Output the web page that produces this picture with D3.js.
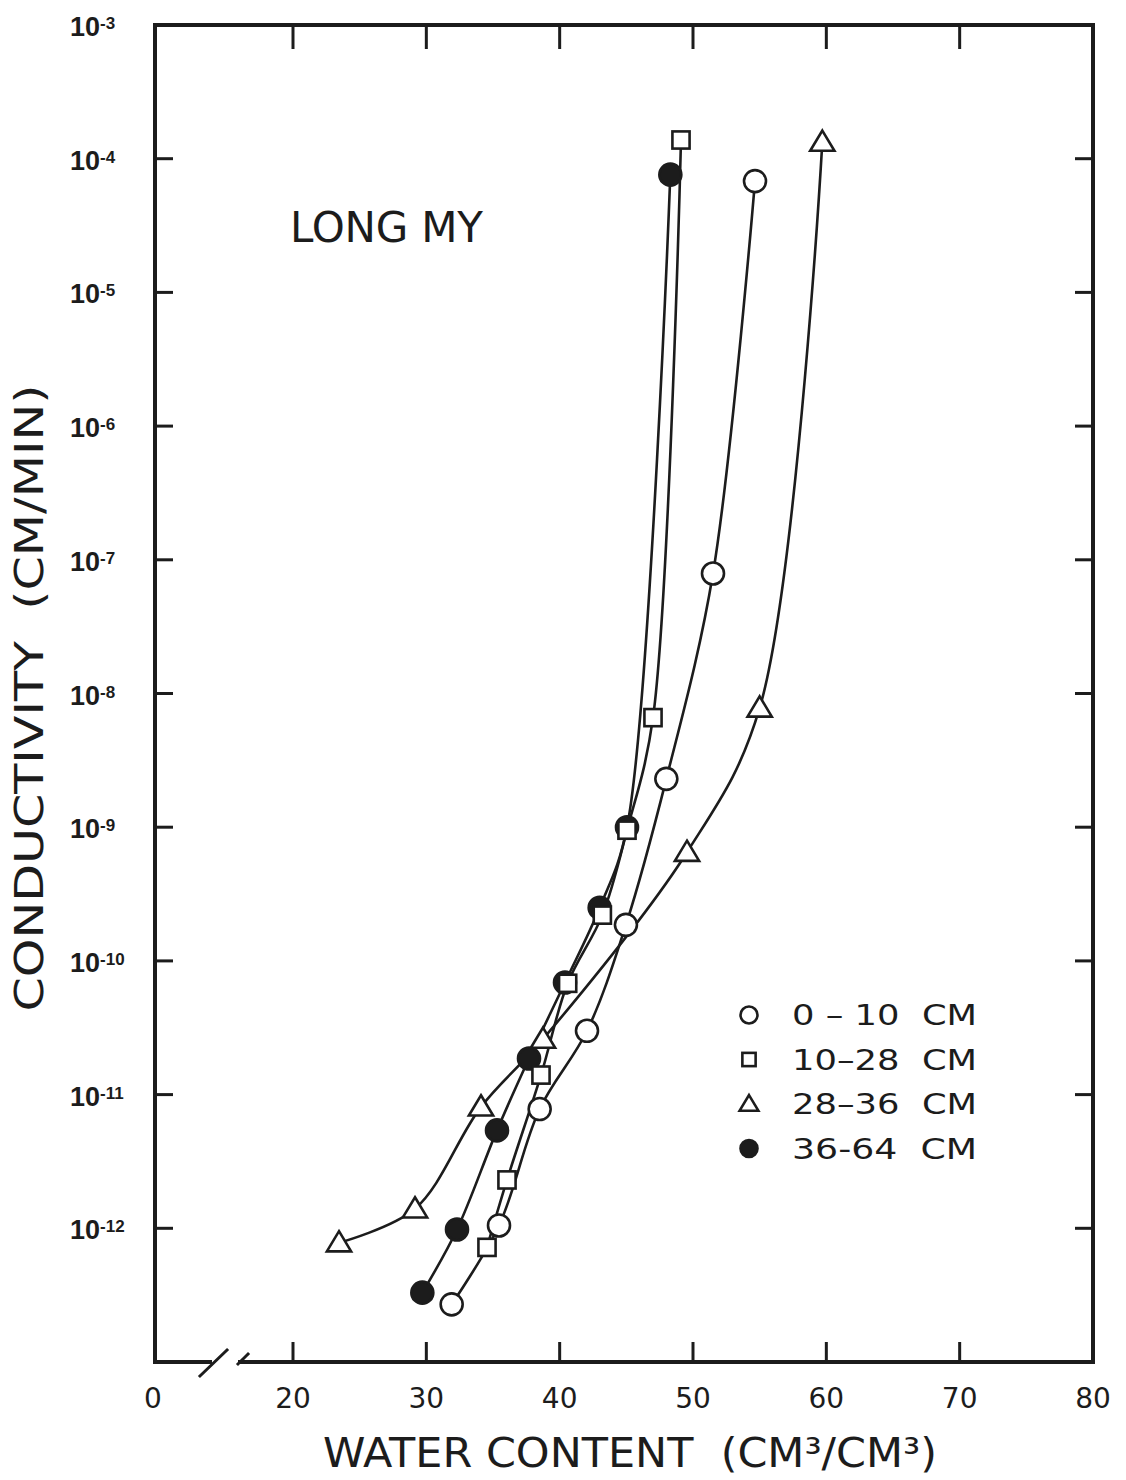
<!DOCTYPE html>
<html>
<head>
<meta charset="utf-8">
<script src="https://cdn.jsdelivr.net/npm/d3@7"></script>
<style>
  body { margin: 0; background: #fff; }
  text { fill: #1c1c1c; }
</style>
</head>
<body>
<svg id="chart"></svg>
<script>
// water content (cm3/cm3) and conductivity (cm/min)
const wc0_10  = [31.9, 35.45, 38.5, 42.05, 44.97, 48.0, 51.5, 54.65]
const k0_10   = [2.7e-13, 1.05e-12, 7.8e-12, 3.0e-11, 1.86e-10, 2.3e-9, 7.9e-8, 6.8e-5]
const wc10_28 = [34.55, 36.05, 38.6, 40.6, 43.2, 45.05, 47.0, 49.1]
const k10_28  = [7.2e-13, 2.3e-12, 1.4e-11, 6.8e-11, 2.2e-10, 9.5e-10, 6.6e-9, 1.38e-4]
const wc28_36 = [23.45, 29.15, 34.1, 38.75, 49.55, 55.0, 59.7]
const k28_36  = [7.8e-13, 1.4e-12, 8.1e-12, 2.6e-11, 6.5e-10, 7.8e-9, 1.33e-4]
const wc36_64 = [29.7, 32.3, 35.3, 37.7, 40.4, 43.0, 45.05, 48.3]
const k36_64  = [3.3e-13, 9.8e-13, 5.4e-12, 1.86e-11, 6.9e-11, 2.5e-10, 1.0e-9, 7.6e-5]

const seriesLabels = ['0 – 10 CM', '10–28 CM', '28–36 CM', '36-64 CM']
const seriesSymbols = ['circle', 'square', 'triangle', 'dot']

const xTicks = [20, 30, 40, 50, 60, 70, 80]
const xBreakLabel = '0'
const yExps = [-3, -4, -5, -6, -7, -8, -9, -10, -11, -12]

const W = 1126, H = 1480
const L = 155, R = 1093, T = 25, B = 1362
const INK = '#1c1c1c'

const series = [
  { wc: wc0_10,  k: k0_10 },
  { wc: wc10_28, k: k10_28 },
  { wc: wc28_36, k: k28_36 },
  { wc: wc36_64, k: k36_64 },
].map((s, i) => ({
  label: seriesLabels[i],
  symbol: seriesSymbols[i],
  points: s.wc.map((w, j) => ({ wc: w, k: s.k[j] })),
}))

const svg = d3.select('#chart')
  .attr('width', W)
  .attr('height', H)
  .style('font-family', '"DejaVu Sans", sans-serif')

svg.append('rect').attr('width', W).attr('height', H).attr('fill', '#fff')

// x axis is broken below 20: left edge stands for 0
const x = d3.scaleLinear().domain([9.65, 80]).range([L, R])
const y = d3.scaleLog().domain([1e-13, 1e-3]).range([B, T])

// frame: left, top, right, bottom (bottom with a break)
const frame = svg.append('g')
  .attr('stroke', INK)
  .attr('stroke-width', 4)
  .attr('fill', 'none')
  .attr('stroke-linecap', 'square')

frame.append('path').attr('d', `M${L},${B} V${T} H${R} V${B} H${L + 85}`)
frame.append('path').attr('d', `M${L},${B} H${L + 55}`)
frame.append('path').attr('d', `M${L + 45},${B + 14} L${L + 72},${B - 12}`).attr('stroke-width', 3)
frame.append('path').attr('d', `M${L + 83},${B + 2} L${L + 93},${B - 8}`).attr('stroke-width', 3)

// ticks
const ticks = svg.append('g').attr('stroke', INK).attr('stroke-width', 3)
const inner = xTicks.filter(v => x(v) < R - 5)
ticks.selectAll('.tb').data(inner).join('line')
  .attr('x1', d => x(d)).attr('x2', d => x(d))
  .attr('y1', B).attr('y2', B - 20)
ticks.selectAll('.tt').data(inner).join('line')
  .attr('x1', d => x(d)).attr('x2', d => x(d))
  .attr('y1', T).attr('y2', T + 24)

const innerY = yExps.filter(e => y(Math.pow(10, e)) > T + 5)
ticks.selectAll('.tl').data(innerY).join('line')
  .attr('x1', L).attr('x2', L + 18)
  .attr('y1', d => y(Math.pow(10, d))).attr('y2', d => y(Math.pow(10, d)))
ticks.selectAll('.tr').data(innerY).join('line')
  .attr('x1', R).attr('x2', R - 18)
  .attr('y1', d => y(Math.pow(10, d))).attr('y2', d => y(Math.pow(10, d)))

// x tick labels
svg.append('g').selectAll('text')
  .data(xTicks)
  .join('text')
    .attr('x', d => x(d))
    .attr('y', B + 46)
    .attr('text-anchor', 'middle')
    .attr('font-size', 28)
    .text(d => d)
svg.append('text')
  .attr('x', L - 2).attr('y', B + 46)
  .attr('text-anchor', 'middle')
  .attr('font-size', 28)
  .text(xBreakLabel)

// y tick labels 10^n
const yl = svg.append('g')
  .style('font-family', '"Liberation Sans", Arial, sans-serif')
  .attr('font-weight', 'bold')
  .selectAll('text')
  .data(yExps)
  .join('text')
    .attr('x', 70)
    .attr('y', d => y(Math.pow(10, d)) + 11)
yl.append('tspan').attr('font-size', 27).text('10')
yl.append('tspan').attr('font-size', 17).attr('dy', -7).text(d => d)

// axis titles
svg.append('text')
  .attr('transform', 'translate(43,698) rotate(-90)')
  .attr('text-anchor', 'middle')
  .attr('font-size', 39)
  .attr('textLength', 627)
  .attr('lengthAdjust', 'spacingAndGlyphs')
  .text('CONDUCTIVITY  (CM/MIN)')
  .style('white-space', 'pre')

svg.append('text')
  .attr('x', 630).attr('y', 1467)
  .attr('text-anchor', 'middle')
  .attr('font-size', 41)
  .attr('textLength', 614)
  .attr('lengthAdjust', 'spacingAndGlyphs')
  .text('WATER CONTENT  (CM³/CM³)')
  .style('white-space', 'pre')

svg.append('text')
  .attr('x', 290).attr('y', 242)
  .attr('font-size', 42)
  .attr('textLength', 193)
  .attr('lengthAdjust', 'spacing')
  .text('LONG MY')

// curves
const line = d3.line()
  .x(d => x(d.wc))
  .y(d => y(d.k))
  .curve(d3.curveCatmullRom.alpha(0.5))

svg.append('g')
  .selectAll('path')
  .data(series)
  .join('path')
    .attr('d', d => line(d.points))
    .attr('fill', 'none')
    .attr('stroke', INK)
    .attr('stroke-width', 2.6)

function drawSymbol(g, kind, size) {
  g.attr('stroke', INK).attr('stroke-width', 2.6)
  if (kind === 'circle' || kind === 'dot') {
    g.append('circle').attr('r', size)
      .attr('fill', kind === 'dot' ? INK : '#fff')
  } else if (kind === 'square') {
    const s = size * 0.78
    g.append('rect').attr('x', -s).attr('y', -s).attr('width', 2 * s).attr('height', 2 * s)
      .attr('fill', '#fff')
  } else {
    const s = size * 1.05
    g.append('path')
      .attr('d', `M0,${-s} L${s * 1.05},${s * 0.75} L${-s * 1.05},${s * 0.75} Z`)
      .attr('fill', '#fff')
  }
}

// filled dots under the open markers
const order = [3, 0, 1, 2]
order.forEach(i => {
  const s = series[i]
  svg.append('g').selectAll('g')
    .data(s.points)
    .join('g')
      .attr('transform', d => `translate(${x(d.wc)},${y(d.k)})`)
      .each(function () { drawSymbol(d3.select(this), s.symbol, 11) })
})

// legend
const leg = svg.append('g').selectAll('g')
  .data(series)
  .join('g')
    .attr('transform', (d, i) => `translate(749,${1015 + i * 44.5})`)
leg.append('g').each(function (d) { drawSymbol(d3.select(this), d.symbol, 8.5) })
leg.append('text')
  .attr('x', 43).attr('y', 10)
  .attr('font-size', 28)
  .attr('textLength', 185)
  .attr('lengthAdjust', 'spacingAndGlyphs')
  .style('white-space', 'pre')
  .text((d, i) => i === 0 ? '0 – 10  CM' : d.label.replace(' CM', '  CM'))
</script>
</body>
</html>
